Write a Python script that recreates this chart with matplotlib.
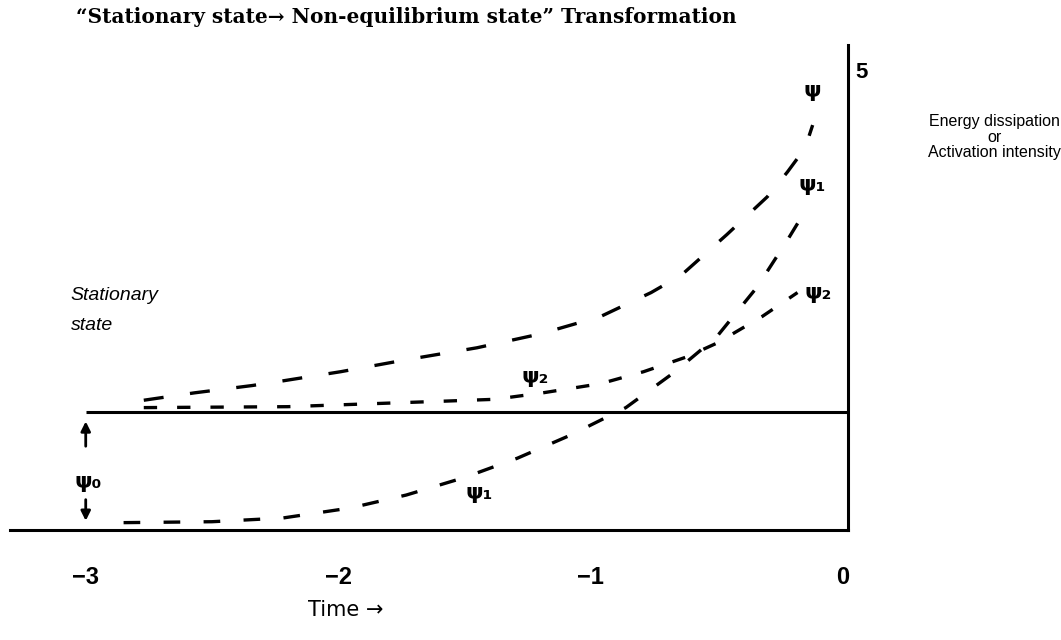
import numpy as np
import matplotlib.pyplot as plt

# values (time, activation level)
t_psi = [-2.77, -2.57, -2.34, -2.22, -1.99, -1.73, -1.45, -1.20, -0.96, -0.76, -0.64, -0.46, -0.30, -0.22, -0.15, -0.12]
y_psi = [1.41, 1.49, 1.57, 1.62, 1.72, 1.85, 1.98, 2.13, 2.32, 2.58, 2.77, 3.21, 3.62, 3.89, 4.15, 4.40]

t_psi1 = [-2.85, -2.50, -2.22, -1.95, -1.73, -1.50, -1.29, -1.08, -0.86, -0.67, -0.50, -0.34, -0.22, -0.16]
y_psi1 = [0.08, 0.09, 0.13, 0.24, 0.38, 0.57, 0.78, 1.03, 1.33, 1.71, 2.10, 2.64, 3.15, 3.42]

t_psi2 = [-2.77, -2.20, -1.58, -1.38, -1.19, -0.96, -0.79, -0.62, -0.50, -0.32, -0.18]
y_psi2 = [1.33, 1.34, 1.40, 1.42, 1.49, 1.59, 1.72, 1.88, 2.03, 2.32, 2.58]

psi0 = 1.28
xticks = [-3, -2, -1, 0]

sans = ['Liberation Sans', 'DejaVu Sans']
serif = ['DejaVu Serif']

fig = plt.figure(figsize=(10.61, 6.40), dpi=100)
ax = fig.add_axes([10 / 1061, 110 / 640, 838 / 1061, 485 / 640])
ax.set_xlim(-3.30, 0.02)
ax.set_ylim(0, 5.27)

for s in ['top', 'left']:
    ax.spines[s].set_visible(False)
ax.spines['bottom'].set_linewidth(2.2)
ax.spines['right'].set_linewidth(2.2)

ax.set_xticks(xticks)
ax.set_xticklabels(['\u22123', '\u22122', '\u22121', '0'])
ax.tick_params(axis='x', length=0, pad=26, labelsize=17)
ax.yaxis.tick_right()
ax.set_yticks([5])
ax.tick_params(axis='y', length=0, pad=5, labelsize=16)
for lab in ax.get_xticklabels() + ax.get_yticklabels():
    lab.set_family(sans)
    lab.set_fontweight('bold')

# stationary level
ax.plot([-3, 0.02], [psi0, psi0], color='black', lw=2.2, solid_capstyle='butt')

ax.plot(t_psi, y_psi, color='black', lw=2.4, dashes=(6, 8))
ax.plot(t_psi1, y_psi1, color='black', lw=2.4, dashes=(5, 7))
ax.plot(t_psi2, y_psi2, color='black', lw=2.4, dashes=(4, 6))

# psi0 arrows
ax.annotate('', xy=(-3, 1.21), xytext=(-3, 0.88),
            arrowprops=dict(arrowstyle='-|>', color='black', lw=2, mutation_scale=14))
ax.annotate('', xy=(-3, 0.07), xytext=(-3, 0.36),
            arrowprops=dict(arrowstyle='-|>', color='black', lw=2, mutation_scale=14))
ax.text(-2.99, 0.52, 'ψ₀', ha='center', va='center', fontsize=16, fontweight='bold')

# curve labels
ax.text(-0.12, 4.77, 'ψ', ha='center', va='center', fontsize=16, fontweight='bold')
ax.text(-0.12, 3.75, 'ψ₁', ha='center', va='center', fontsize=16, fontweight='bold')
ax.text(-0.10, 2.57, 'ψ₂', ha='center', va='center', fontsize=16, fontweight='bold')
ax.text(-1.22, 1.66, 'ψ₂', ha='center', va='center', fontsize=16, fontweight='bold')
ax.text(-1.44, 0.40, 'ψ₁', ha='center', va='center', fontsize=16, fontweight='bold')

ax.text(-3.06, 2.38, 'Stationary\nstate', ha='left', va='center', fontsize=14,
        style='italic', family=sans, linespacing=2.0)

ax.text(0.60, 4.27, 'Energy dissipation\nor\nActivation intensity', ha='center', va='center',
        fontsize=11.5, family=sans, linespacing=1.05, clip_on=False)

ax.text(-1.97, -0.87, 'Time \u2192', ha='center', va='center', fontsize=15,
        family=['DejaVu Sans'], clip_on=False)

ax.text(-3.04, 5.57, '\u201cStationary state\u2192 Non-equilibrium state\u201d Transformation',
        ha='left', va='center', fontsize=14.5, fontweight='bold', family=serif, clip_on=False)

fig.savefig('out.png', dpi=100)
